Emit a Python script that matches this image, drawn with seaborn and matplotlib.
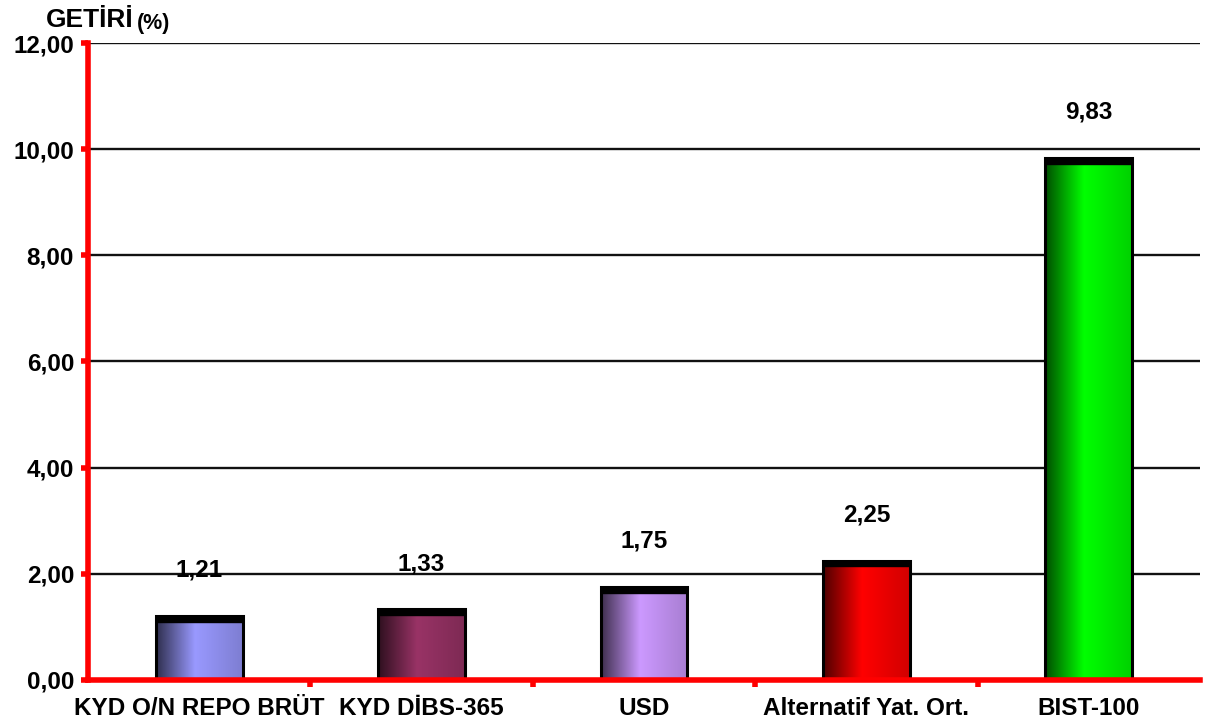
import numpy as np
import pandas as pd
import matplotlib
matplotlib.use("Agg")
import matplotlib.pyplot as plt
import matplotlib.colors as mcolors
from matplotlib.colors import LinearSegmentedColormap
from matplotlib.patches import Rectangle
from matplotlib.ticker import FixedLocator
import seaborn as sns

categories = ["KYD O/N REPO BRÜT", "KYD DİBS-365", "USD", "Alternatif Yat. Ort.", "BIST-100"]
returns = [1.21, 1.33, 1.75, 2.25, 9.83]
bar_colors = ["#9999FF", "#993366", "#CC99FF", "#FF0000", "#00FF00"]
y_ticks = [0, 2, 4, 6, 8, 10, 12]

sns.set_theme(style="white")
plt.rcParams["font.family"] = ["Liberation Sans", "DejaVu Sans"]
plt.rcParams["font.weight"] = "bold"
plt.rcParams["text.color"] = "black"
plt.rcParams["xtick.color"] = "black"
plt.rcParams["ytick.color"] = "black"

df = pd.DataFrame({"cat": categories, "val": returns})

fig = plt.figure(figsize=(12.12, 7.24), dpi=100)
ax = fig.add_axes([0.0726, 0.0608, 0.9174, 0.8798])

sns.barplot(data=df, x="cat", y="val", hue="cat", palette=bar_colors,
            width=0.39, legend=False, ax=ax, zorder=3)

# gradient fill on each bar, dark on left, lightest around 45%
grad = np.linspace(0, 1, 256).reshape(1, -1)
for patch, col, v in zip(ax.patches, bar_colors, returns):
    x0, y0 = patch.get_x(), patch.get_y()
    w, h = patch.get_width(), patch.get_height()
    rgb = np.array(mcolors.to_rgb(col))
    cmap = LinearSegmentedColormap.from_list(
        "g", [(0, rgb * 0.3), (0.45, rgb), (1, rgb * 0.82)])
    im = ax.imshow(grad, cmap=cmap, extent=[x0, x0 + w, y0, y0 + h],
                   aspect="auto", zorder=3.1, interpolation="bilinear")
    im.set_clip_path(patch)
    patch.set_facecolor("none")
    patch.set_edgecolor("black")
    patch.set_linewidth(2.2)
    patch.set_zorder(3.2)
    ax.add_patch(Rectangle((x0, y0 + h - 0.11), w, 0.11, color="black", zorder=3.3))
    ax.annotate(f"{v:.2f}".replace(".", ","), (x0 + w / 2, v),
                xytext=(0, 33), textcoords="offset points",
                ha="center", va="center", fontsize=17.5, fontweight="bold",
                color="black", zorder=4)

ax.set_xlim(-0.5, len(categories) - 0.5)
ax.set_ylim(0, 12)
ax.set_yticks(y_ticks)
ax.set_yticklabels([f"{t:.2f}".replace(".", ",") for t in y_ticks],
                   fontsize=17.5, fontweight="bold")
ax.set_xticks(range(len(categories)))
ax.set_xticklabels(categories, fontsize=17.5, fontweight="bold")
ax.xaxis.set_minor_locator(FixedLocator(np.arange(0.5, len(categories) - 0.5, 1)))
ax.set_xlabel("")
ax.set_ylabel("")

for yv in y_ticks[1:]:
    ax.axhline(yv, color="#111111", lw=1.7, zorder=1)

for s in ["top", "right"]:
    ax.spines[s].set_visible(False)
for s in ["left", "bottom"]:
    ax.spines[s].set_color("red")
    ax.spines[s].set_linewidth(4)
    ax.spines[s].set_zorder(5)

ax.tick_params(axis="y", which="major", direction="out", length=5, width=4,
               color="red", labelcolor="black", pad=5, left=True)
ax.tick_params(axis="x", which="major", length=0, pad=12, labelcolor="black")
ax.tick_params(axis="x", which="minor", direction="out", length=5, width=4,
               color="red", bottom=True)

fig.text(0.038, 0.972, "GETİRİ", fontsize=19, fontweight="bold", va="center", ha="left")
fig.text(0.113, 0.968, "(%)", fontsize=15.5, fontweight="bold", va="center", ha="left")

fig.savefig("out.png", dpi=100, facecolor="white")
